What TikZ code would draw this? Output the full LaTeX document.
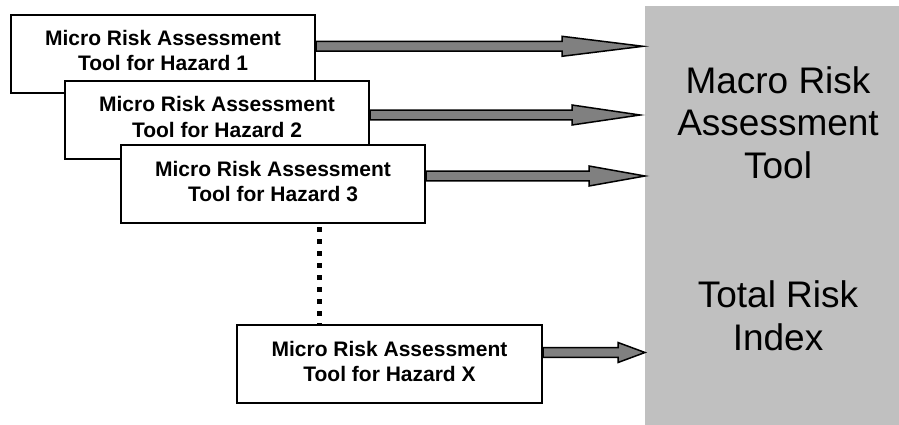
\documentclass[tikz,border=0pt]{standalone}
\usepackage{fontspec}
\setmainfont{Liberation Sans}
\usetikzlibrary{calc}
\definecolor{arrowgray}{HTML}{808080}
\definecolor{macrogray}{HTML}{C0C0C0}
\newcommand\fatconnector[3]{%
  \draw[fatarrow] let \p1=(#1), \p2=(#2) in
    (\x1,\y1+4.8pt) -- (\x2-#3pt,\y1+4.8pt) -- (\x2-#3pt,\y1+10pt) -- (\x2,\y1)
    -- (\x2-#3pt,\y1-10pt) -- (\x2-#3pt,\y1-4.8pt) -- (\x1,\y1-4.8pt) -- cycle;}
\begin{document}
\begin{tikzpicture}[x=1pt,y=-1pt,
  microbox/.style={draw=black, line width=2pt, fill=white, minimum width=304pt,
    minimum height=78pt, inner sep=0pt, align=center,
    font=\fontsize{21}{25}\selectfont\bfseries, text height=40pt, text depth=6pt},
  fatarrow/.style={draw=black, line width=1.5pt, fill=arrowgray, line join=miter},
  bigtext/.style={align=center, font=\fontsize{37}{42.5}\selectfont, inner sep=0pt, anchor=base},
  dotline/.style={line width=5pt, dash pattern=on 5pt off 7pt, dash phase=9pt}]
\useasboundingbox (0,0) rectangle (899,425);
\node[fill=macrogray, minimum width=254pt, minimum height=419pt, inner sep=0pt, anchor=north west] (macro) at (645,6) {};
\node[bigtext] (mtitle) at (778,178) {Macro Risk\\Assessment\\Tool};
\node[bigtext] (tri) at (778,350) {Total Risk\\Index};
\node[microbox] (b1) at (163,54) {Micro Risk Assessment\\Tool for Hazard 1};
\node[microbox] (b2) at (217,120) {Micro Risk Assessment\\Tool for Hazard 2};
\node[microbox] (b3) at (273,184) {Micro Risk Assessment\\Tool for Hazard 3};
\node[microbox, minimum width=305pt] (bx) at (389.5,364) {Micro Risk Assessment\\Tool for Hazard X};
\path (b3.south) ++(46,0) coordinate (d1);
\path (bx.north) ++(-70.5,0) coordinate (d2);
\draw[dotline] (d1) -- (d2);
\coordinate (s1) at ($(b1.east)+(0,-7.7)$);
\coordinate (t1) at ($(macro.west |- s1)+(-2,0)$);
\coordinate (s2) at ($(b2.east)+(0,-5)$);
\coordinate (t2) at ($(macro.west |- s2)+(-5,0)$);
\coordinate (s3) at ($(b3.east)+(0,-8)$);
\coordinate (t3) at (macro.west |- s3);
\coordinate (sx) at ($(bx.east)+(0,-11.5)$);
\coordinate (tx) at (macro.west |- sx);
\fatconnector{s1}{t1}{81}
\fatconnector{s2}{t2}{68}
\fatconnector{s3}{t3}{56}
\fatconnector{sx}{tx}{27}
\end{tikzpicture}
\end{document}
